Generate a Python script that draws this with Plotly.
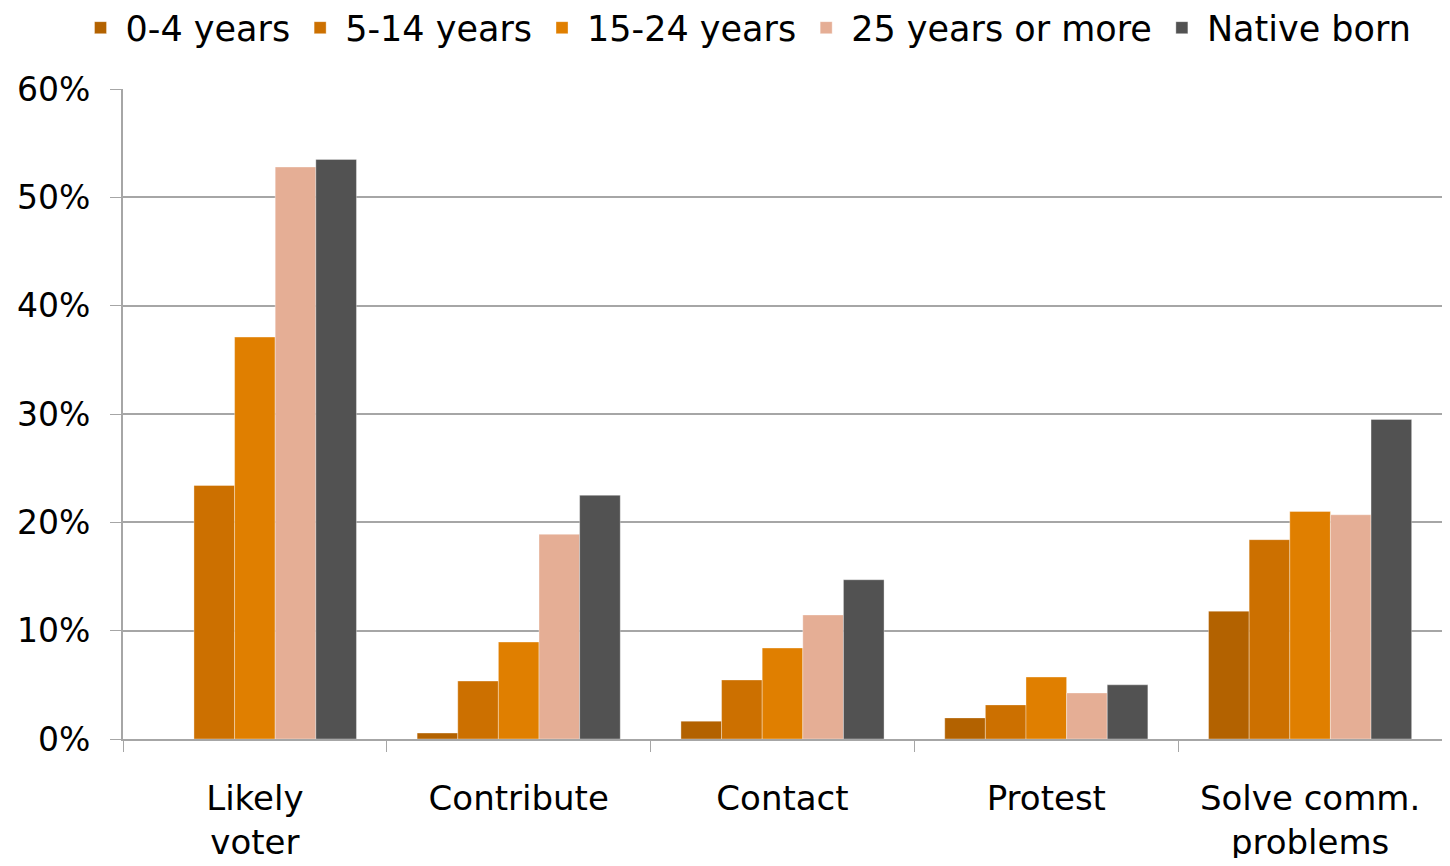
import plotly.graph_objects as go

# Datos
categories = ["Likely<br>voter", "Contribute", "Contact", "Protest", "Solve comm.<br>problems"]
series_names = ["0-4 years", "5-14 years", "15-24 years", "25 years or more", "Native born"]
years_0_4 = [None, 0.0055, 0.0165, 0.0195, 0.118]
years_5_14 = [0.234, 0.0535, 0.0545, 0.0315, 0.184]
years_15_24 = [0.371, 0.0895, 0.084, 0.0572, 0.210]
years_25_plus = [0.528, 0.189, 0.1145, 0.0425, 0.207]
native_born = [0.535, 0.225, 0.147, 0.050, 0.295]
y_ticks = [0, 0.1, 0.2, 0.3, 0.4, 0.5, 0.6]

colors = ["#B36200", "#CC7000", "#E07F00", "#E5AE95", "#525252"]
values = [years_0_4, years_5_14, years_15_24, years_25_plus, native_born]

fig = go.Figure()
for name, vals, color in zip(series_names, values, colors):
    fig.add_trace(go.Bar(
        x=categories,
        y=vals,
        name=name,
        marker=dict(color=color, line=dict(color="rgba(255,255,255,0.35)", width=1)),
    ))

font_label = "DejaVu Sans, sans-serif"

# el body de la página tiene 8px de margen: figura de 1434x850
fig.update_layout(
    width=1434,
    height=850,
    barmode="group",
    bargap=0.23,
    bargroupgap=0,
    plot_bgcolor="white",
    paper_bgcolor="white",
    margin=dict(l=115, r=0, t=81, b=119, autoexpand=False),
    font=dict(family=font_label, size=34, color="#000000"),
    legend=dict(
        orientation="h",
        x=-0.036, xanchor="left",
        y=1.094, yanchor="middle",
        font=dict(family=font_label, size=35),
        itemwidth=40,
        traceorder="normal",
    ),
    xaxis=dict(
        showline=True, linecolor="#A6A6A6", linewidth=2,
        ticks="outside", ticklen=11, tickcolor="#A6A6A6", tickwidth=1,
        tickson="boundaries",
        ticklabelstandoff=28,
        tickfont=dict(family=font_label, size=34),
        showgrid=False,
    ),
    yaxis=dict(
        range=[0, 0.6],
        tickvals=y_ticks,
        tickformat=".0%",
        showline=True, linecolor="#A6A6A6", linewidth=2,
        ticks="outside", ticklen=11, tickcolor="#A6A6A6", tickwidth=1,
        ticklabelstandoff=13,
        showgrid=True, gridcolor="#A6A6A6", gridwidth=2,
        tickfont=dict(family=font_label, size=33),
        zeroline=False,
    ),
)

fig.write_html("out.html")
